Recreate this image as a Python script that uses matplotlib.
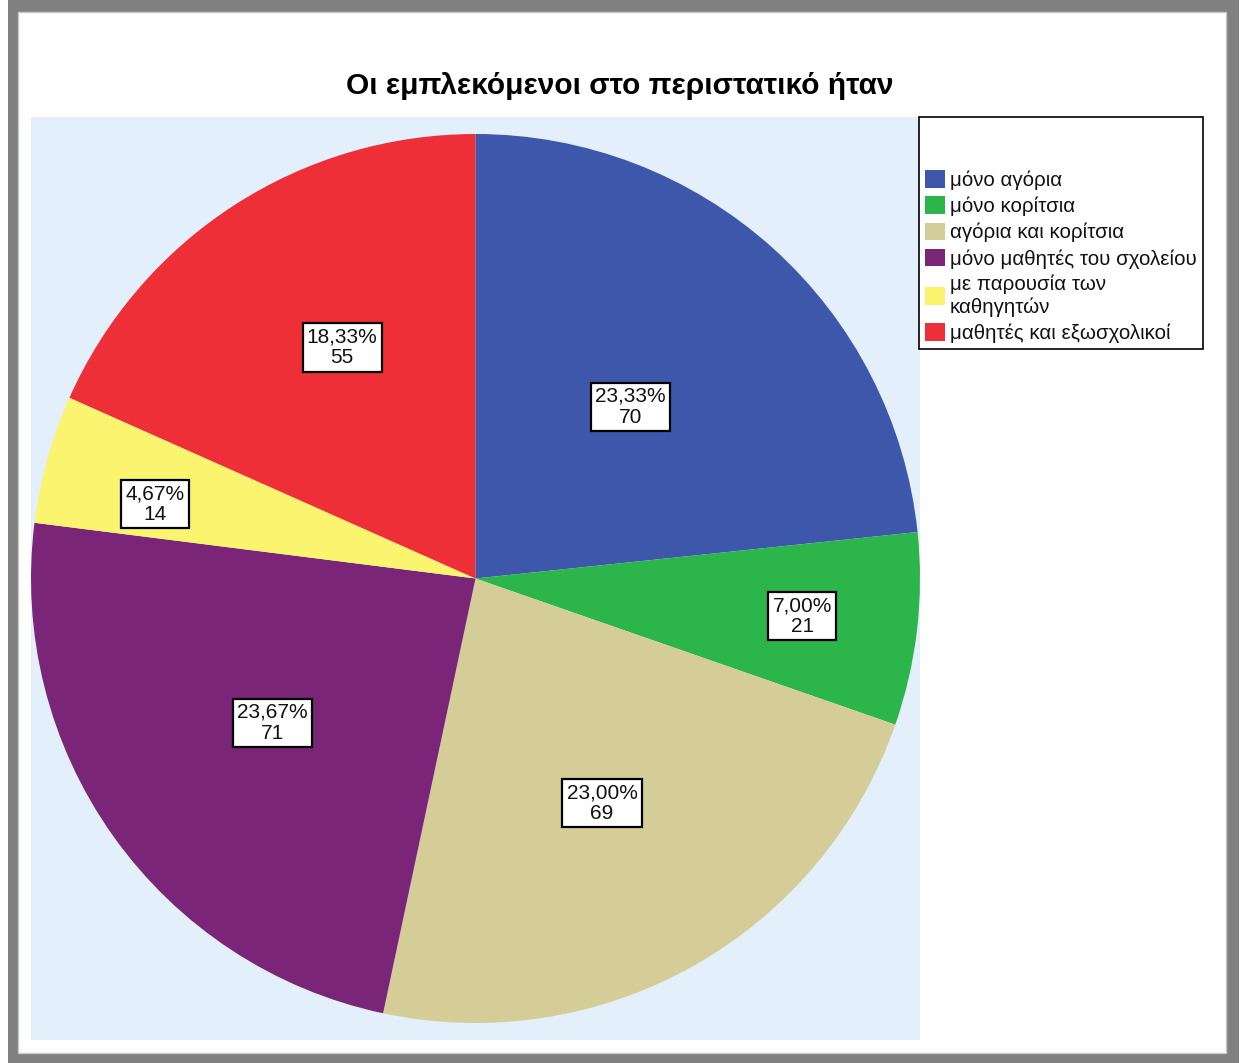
import matplotlib
matplotlib.use('Agg')
import matplotlib.pyplot as plt
from matplotlib.patches import Rectangle
import numpy as np

W, H = 1244, 1063

# data
categories = ['μόνο αγόρια', 'μόνο κορίτσια', 'αγόρια και κορίτσια',
              'μόνο μαθητές του σχολείου', 'με παρουσία των\nκαθηγητών',
              'μαθητές και εξωσχολικοί']
counts = [70, 21, 69, 71, 14, 55]
pct_labels = ['23,33%', '7,00%', '23,00%', '23,67%', '4,67%', '18,33%']

# styles
colors = ['#3D57AA', '#2CB54A', '#D4CD97', '#7A2577', '#FAF46E', '#EE2F38']
label_r = [0.52, 0.74, 0.58, 0.56, 0.74, 0.60]
label_shift = [0, 0, 0, 0, 2.5, -3]   # small angular nudges (degrees)
bg_color = '#E3EFFB'

plt.rcParams['font.family'] = ['Liberation Sans', 'DejaVu Sans']

fig = plt.figure(figsize=(W / 100, H / 100), dpi=100, facecolor='white')

# grey outer frame
fig.add_artist(Rectangle((8 / W, 0), (1239 - 8) / W, 1, transform=fig.transFigure,
                         facecolor='#808080', edgecolor='none', zorder=-3))
fig.add_artist(Rectangle((18 / W, (H - 1053) / H), (1226 - 18) / W, (1053 - 12) / H,
                         transform=fig.transFigure, facecolor='white',
                         edgecolor='#C8C8C8', linewidth=1, zorder=-2))

ax = fig.add_axes([31 / W, (H - 1040) / H, 889 / W, 923 / H])
wedges, _ = ax.pie(counts, colors=colors, startangle=90, counterclock=False,
                   radius=1, wedgeprops=dict(linewidth=0))
ax.set_frame_on(True)
for s in ax.spines.values():
    s.set_visible(False)
ax.set_facecolor(bg_color)
ax.set_xlim(-1, 1)
ax.set_ylim(-923 / 889, 923 / 889)
ax.set_aspect('equal')

# boxed labels
for w, p, c, r, d in zip(wedges, pct_labels, counts, label_r, label_shift):
    ang = np.deg2rad((w.theta1 + w.theta2) / 2 + d)
    ax.text(r * np.cos(ang), r * np.sin(ang), f'{p}\n{c}', ha='center', va='center',
            fontsize=15, linespacing=1.12, color='#111111',
            bbox=dict(boxstyle='square,pad=0.2', facecolor='white',
                      edgecolor='black', linewidth=1.6))

fig.text(620 / W, 1 - 86 / H, 'Οι εμπλεκόμενοι στο περιστατικό ήταν',
         ha='center', va='center', fontsize=21.5, fontweight='bold')

leg = fig.legend(wedges, categories, loc='upper left',
                 bbox_to_anchor=(919 / W, 1 - 117 / H), borderaxespad=0,
                 frameon=True, fancybox=False, edgecolor='black', framealpha=1,
                 fontsize=14.8, title='\n', title_fontsize=15.2,
                 handlelength=0.95, handleheight=0.95, handletextpad=0.25,
                 labelspacing=0.3, borderpad=0.3)
leg.get_frame().set_linewidth(1.2)
for t in leg.get_texts():
    t.set_color('#111111')

fig.savefig('out.png', dpi=100, facecolor='white')
